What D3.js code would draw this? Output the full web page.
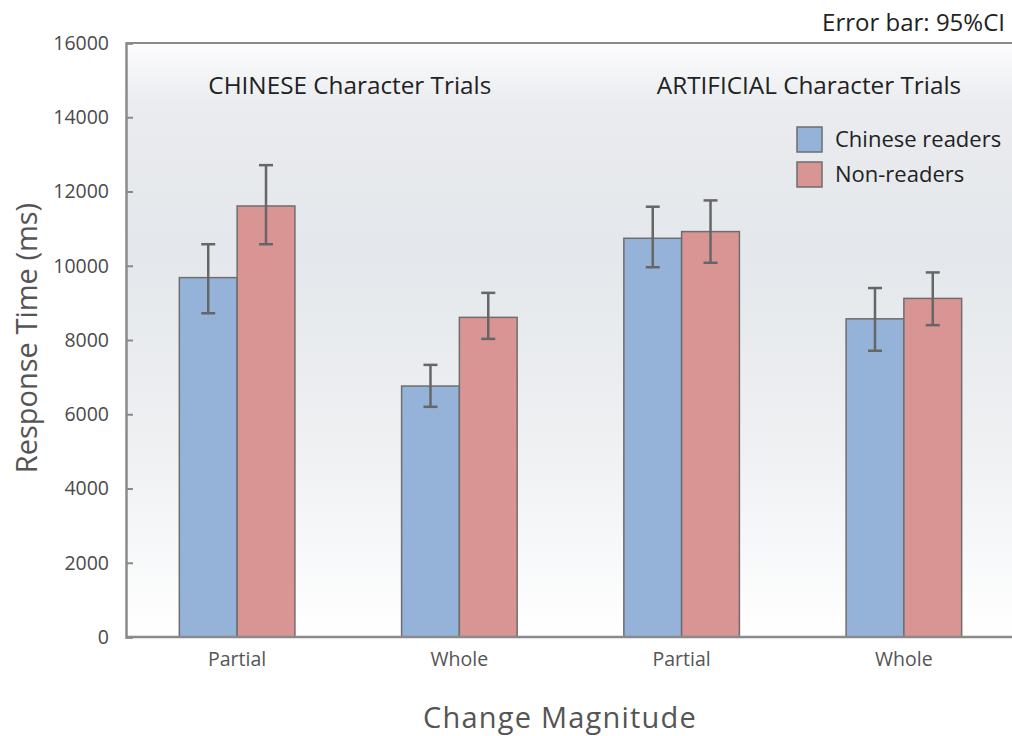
<!DOCTYPE html>
<html>
<head>
<meta charset="utf-8">
<script src="https://cdn.jsdelivr.net/npm/d3@7"></script>
<style>
  body { margin: 0; background: #fff; }
  text { font-family: "Open Sans", "Noto Sans", sans-serif; }
</style>
</head>
<body>
<script>
// chart data
var categories = ['Partial', 'Whole', 'Partial ', 'Whole '];
var series = ['Chinese readers', 'Non-readers'];
var readersMean = [9680, 6760, 10740, 8570];
var readersLow = [8720, 6200, 9960, 7710];
var readersHigh = [10580, 7330, 11590, 9400];
var nonReadersMean = [11610, 8610, 10920, 9120];
var nonReadersLow = [10580, 8030, 10080, 8400];
var nonReadersHigh = [12710, 9270, 11760, 9820];
var yTicks = [0, 2000, 4000, 6000, 8000, 10000, 12000, 14000, 16000];
var panelTitles = ['CHINESE Character Trials', 'ARTIFICIAL Character Trials'];

var width = 1012, height = 736;
var m = { left: 126, right: 1015, top: 43, bottom: 637 };
var colors = ['#95b3d9', '#d99594'];

var rows = [];
categories.forEach(function (c, i) {
    rows.push({ cat: c, s: series[0], v: readersMean[i], lo: readersLow[i], hi: readersHigh[i] });
    rows.push({ cat: c, s: series[1], v: nonReadersMean[i], lo: nonReadersLow[i], hi: nonReadersHigh[i] });
});

var svg = d3.select('body').append('svg').attr('width', width).attr('height', height);

var defs = svg.append('defs');
var grad = defs.append('linearGradient').attr('id', 'bg').attr('x1', 0).attr('y1', 0).attr('x2', 0).attr('y2', 1);
[[0, '#fdfdfe'], [0.1, '#eaecef'], [0.35, '#e4e7eb'], [0.7, '#eff1f3'], [1, '#ffffff']].forEach(function (s) {
    grad.append('stop').attr('offset', s[0]).attr('stop-color', s[1]);
});

var x0 = d3.scaleBand().domain(categories).range([m.left, m.right]).paddingInner(0.48).paddingOuter(0.24);
var x1 = d3.scaleBand().domain(series).range([0, x0.bandwidth()]);
var y = d3.scaleLinear().domain([0, 16000]).range([m.bottom, m.top]);
var color = d3.scaleOrdinal().domain(series).range(colors);

svg.append('rect')
    .attr('x', m.left).attr('y', m.top)
    .attr('width', width - m.left).attr('height', m.bottom - m.top)
    .attr('fill', 'url(#bg)');

// top border
svg.append('line')
    .attr('x1', m.left).attr('x2', width).attr('y1', m.top).attr('y2', m.top)
    .attr('stroke', '#8a8a8a').attr('stroke-width', 2);

// bars
svg.append('g').selectAll('rect')
    .data(rows)
    .enter().append('rect')
    .attr('x', function (d) { return x0(d.cat) + x1(d.s); })
    .attr('y', function (d) { return y(d.v); })
    .attr('width', x1.bandwidth())
    .attr('height', function (d) { return y(0) - y(d.v); })
    .attr('fill', function (d) { return color(d.s); })
    .attr('stroke', '#6e6e6e')
    .attr('stroke-width', 1.5);

// error bars
var err = svg.append('g').attr('stroke', '#666').attr('stroke-width', 2.5);
rows.forEach(function (d) {
    var cx = x0(d.cat) + x1(d.s) + x1.bandwidth() / 2;
    err.append('line').attr('x1', cx).attr('x2', cx).attr('y1', y(d.lo)).attr('y2', y(d.hi));
    err.append('line').attr('x1', cx - 7).attr('x2', cx + 7).attr('y1', y(d.lo)).attr('y2', y(d.lo));
    err.append('line').attr('x1', cx - 7).attr('x2', cx + 7).attr('y1', y(d.hi)).attr('y2', y(d.hi));
});

// y axis
var yAxis = svg.append('g')
    .attr('transform', 'translate(' + m.left + ',0)')
    .call(d3.axisLeft(y).tickValues(yTicks).tickSize(-7).tickPadding(17).tickFormat(d3.format('d')));
yAxis.select('.domain').attr('stroke', '#8a8a8a').attr('stroke-width', 2.5);
yAxis.selectAll('.tick line').attr('stroke', '#8a8a8a').attr('stroke-width', 2);
yAxis.selectAll('.tick text').attr('fill', '#4a4a4a').attr('font-size', 19.5);

// x axis
var xAxis = svg.append('g')
    .attr('transform', 'translate(0,' + m.bottom + ')')
    .call(d3.axisBottom(x0).tickSize(0).tickPadding(15));
xAxis.select('.domain').attr('d', 'M' + m.left + ',0H' + width).attr('stroke', '#8a8a8a').attr('stroke-width', 2.5);
xAxis.selectAll('.tick text').attr('fill', '#555').attr('font-size', 19.5);

// panel titles, left-aligned a little inside each pair of groups
panelTitles.forEach(function (t, i) {
    svg.append('text')
        .attr('x', x0(categories[i * 2]) + 29 + i * 4).attr('y', 94)
        .attr('fill', '#222').attr('font-size', 24.3)
        .text(t);
});

svg.append('text')
    .attr('x', 1005).attr('y', 31)
    .attr('text-anchor', 'end')
    .attr('fill', '#222').attr('font-size', 24)
    .text('Error bar: 95%CI');

// legend
var legend = svg.append('g').attr('transform', 'translate(797,127)');
series.forEach(function (s, i) {
    var g = legend.append('g').attr('transform', 'translate(0,' + i * 35 + ')');
    g.append('rect').attr('width', 25).attr('height', 25)
        .attr('fill', color(s)).attr('stroke', '#6e6e6e').attr('stroke-width', 1.5);
    g.append('text').attr('x', 38).attr('y', 20)
        .attr('fill', '#222').attr('font-size', 22)
        .text(s);
});

// axis titles
svg.append('text')
    .attr('x', 560).attr('y', 728)
    .attr('text-anchor', 'middle')
    .attr('fill', '#555').attr('font-size', 29)
    .attr('letter-spacing', 1.2)
    .text('Change Magnitude');

svg.append('text')
    .attr('transform', 'translate(37,338) rotate(-90)')
    .attr('text-anchor', 'middle')
    .attr('fill', '#555').attr('font-size', 29)
    .text('Response Time (ms)');
</script>
</body>
</html>
